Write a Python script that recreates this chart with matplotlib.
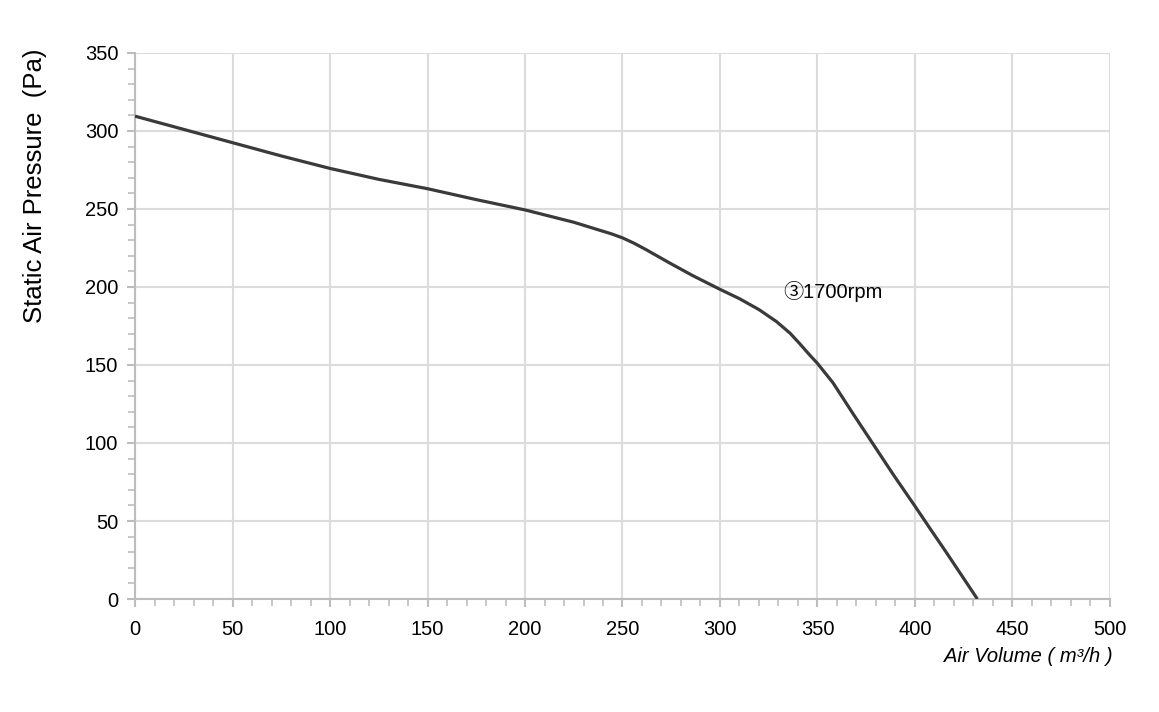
import matplotlib.pyplot as plt
from matplotlib.ticker import MultipleLocator

# fan curve
air_volume = [0, 25, 50, 75, 100, 125, 150, 175, 200, 225, 238.5, 244, 250, 256, 262, 274, 286, 300,
              310, 320, 329, 336, 341, 346, 350, 358, 368, 378, 389, 400, 407, 416, 424, 432]
pressure = [309.5, 301, 292.5, 284, 276, 269, 263, 256, 249.4, 241.5, 236.3, 234.2, 231.5, 228, 224, 215.5, 207.3, 198.5,
            192.5, 185.5, 177.8, 170.3, 163.5, 156.4, 151, 138.5, 119.2, 100.3, 79.5, 59.5, 46.5, 30, 15, 0]

x_ticks = [0, 50, 100, 150, 200, 250, 300, 350, 400, 450, 500]
y_ticks = [0, 50, 100, 150, 200, 250, 300, 350]
curve_label = "③1700rpm"

plt.rcParams['font.family'] = ['Liberation Sans', 'Noto Sans CJK SC', 'DejaVu Sans']

fig = plt.figure(figsize=(11.59, 7.12), dpi=100)
ax = fig.add_axes([0.1165, 0.1587, 0.9577 - 0.1165, 0.9256 - 0.1587])

ax.plot(air_volume, pressure, color='#3a3a3a', lw=2.3, solid_joinstyle='round',
        solid_capstyle='butt', zorder=3)

ax.set_xlim(0, 500)
ax.set_ylim(0, 350)
ax.set_xticks(x_ticks)
ax.set_yticks(y_ticks)
ax.xaxis.set_minor_locator(MultipleLocator(10))
ax.yaxis.set_minor_locator(MultipleLocator(10))

ax.grid(True, which='major', color='#dcdcdc', lw=1.5, zorder=0)
for s in ['top', 'right']:
    ax.spines[s].set_visible(False)
for s in ['left', 'bottom']:
    ax.spines[s].set_color('#bdbdbd')
    ax.spines[s].set_linewidth(1.5)

ax.tick_params(which='major', length=6, width=1.5, color='#bdbdbd', labelsize=14.5, labelcolor='black')
ax.tick_params(which='minor', length=5, width=1.2, color='#bdbdbd')
ax.tick_params(axis='x', which='major', pad=9)
ax.tick_params(axis='y', which='major', pad=6)

ax.text(332.3, 196.8, curve_label, fontsize=14.5, va='center', ha='left')

fig.text(1113 / 1159, 1 - 657 / 712, 'Air Volume ( m³/h )', fontsize=14.5, style='italic',
         ha='right', va='center')
fig.text(35 / 1159, 1 - 186 / 712, 'Static Air Pressure  (Pa)', fontsize=18.5, rotation=90,
         ha='center', va='center')

fig.savefig('out.png', dpi=100)
